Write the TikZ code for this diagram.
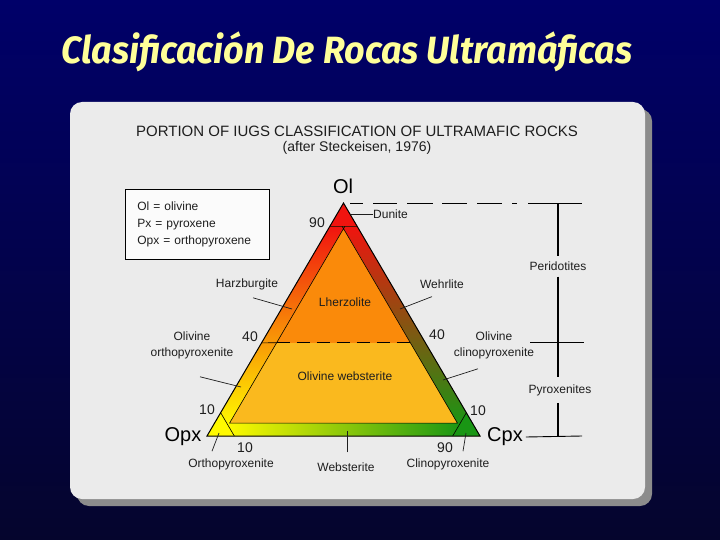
\documentclass[tikz,border=0pt]{standalone}
\usepackage{fontspec}
\setmainfont{Liberation Sans}
\newfontfamily\titlefont{Fira Sans}
\usetikzlibrary{calc}

\definecolor{bgtop}{RGB}{0,0,105}
\definecolor{bgbot}{RGB}{5,5,45}
\definecolor{panelgray}{RGB}{235,235,235}
\definecolor{shadowgray}{RGB}{140,140,140}
\definecolor{titleyellow}{RGB}{255,255,153}
\definecolor{inkgray}{RGB}{30,30,30}
\definecolor{duniteRed}{RGB}{240,20,15}
\definecolor{lherzOrange}{RGB}{250,138,10}
\definecolor{websAmber}{RGB}{250,185,30}
\definecolor{opxYellow}{RGB}{255,250,0}
\definecolor{cpxGreen}{RGB}{25,150,20}
\definecolor{bandOrange}{RGB}{245,160,50}
\definecolor{bandBrown}{RGB}{130,75,20}
\definecolor{bandLime}{RGB}{185,220,40}

\tikzset{
  lbl/.style={font=\fontsize{12}{14}\selectfont, text=inkgray, inner sep=0pt},
  num/.style={font=\fontsize{14}{16}\selectfont, text=inkgray, inner sep=0pt},
  apexlbl/.style={font=\fontsize{20}{22}\selectfont, text=black, inner sep=0pt},
  leader/.style={draw=inkgray, line width=0.7pt},
  edge/.style={draw=black, line width=0.8pt},
}

\begin{document}
\begin{tikzpicture}[x=1pt,y=-1pt]
\useasboundingbox (0,0) rectangle (720,540);
% background and panel
\shade[top color=bgtop, bottom color=bgbot] (0,0) rectangle (720,540);
\fill[shadowgray, rounded corners=12] (77,109) rectangle (652,506);
\fill[panelgray, rounded corners=12] (70,102) rectangle (645,499);

% title
\node[font=\titlefont\bfseries\itshape\fontsize{38}{42}\selectfont, text=titleyellow] (title) at (347,52)
  {\scalebox{0.945}[1]{Clasificación De Rocas Ultramáficas}};

% heading
\node[font=\fontsize{15}{17}\selectfont, text=inkgray] (head) at (357,131) {PORTION OF IUGS CLASSIFICATION OF ULTRAMAFIC ROCKS};
\node[font=\fontsize{14}{16}\selectfont, text=inkgray] (after) at (357,148) {(after Steckeisen, 1976)};

% legend
\node[draw=black, line width=0.7pt, fill=white!97!gray, anchor=north west, text width=120pt,
      minimum height=70pt, inner xsep=12pt, align=left, font=\fontsize{12}{17}\selectfont, text=inkgray] (legend) at (125,189)
  {Ol = olivine\\Px = pyroxene\\Opx = orthopyroxene};

% triangle corners
\coordinate (A) at (343.5,203);
\coordinate (B) at (207,436);
\coordinate (C) at (480,436);
% ternary points (Ol, Opx, Cpx)
\coordinate (dunL) at ($0.9*(A)+0.1*(B)$);
\coordinate (dunR) at ($0.9*(A)+0.1*(C)$);
\coordinate (lbTop) at ($0.9*(A)+0.045*(B)+0.055*(C)$);
\coordinate (lbBot) at ($0.045*(A)+0.9*(B)+0.055*(C)$);
\coordinate (rbTop) at ($0.9*(A)+0.055*(B)+0.045*(C)$);
\coordinate (rbBot) at ($0.045*(A)+0.055*(B)+0.9*(C)$);
\coordinate (opxTop) at ($0.1*(A)+0.9*(B)$);
\coordinate (opxRt) at ($0.9*(B)+0.1*(C)$);
\coordinate (cpxTop) at ($0.1*(A)+0.9*(C)$);
\coordinate (cpxLt) at ($0.1*(B)+0.9*(C)$);
\coordinate (bbL) at ($0.055*(A)+0.9*(B)+0.045*(C)$);
\coordinate (bbR) at ($0.055*(A)+0.045*(B)+0.9*(C)$);
\coordinate (inBL) at ($0.055*(A)+0.89*(B)+0.055*(C)$);
\coordinate (inBR) at ($0.055*(A)+0.055*(B)+0.89*(C)$);
\coordinate (ol40L) at ($0.4*(A)+0.6*(B)$);
\coordinate (ol40a) at ($0.4*(A)+0.545*(B)+0.055*(C)$);
\coordinate (ol40b) at ($0.4*(A)+0.055*(B)+0.545*(C)$);

% fields
\fill[websAmber] (A) -- (B) -- (C) -- cycle;
\fill[duniteRed] (A) -- (dunL) -- (dunR) -- cycle;
\shade[top color=duniteRed, middle color=bandOrange, bottom color=opxYellow] (dunL) -- (opxTop) -- (lbBot) -- (lbTop) -- cycle;
\shade[top color=duniteRed, middle color=bandBrown, bottom color=cpxGreen] (dunR) -- (cpxTop) -- (rbBot) -- (rbTop) -- cycle;
\shade[left color=opxYellow, middle color=bandLime, right color=cpxGreen] (opxRt) -- (cpxLt) -- (bbR) -- (bbL) -- cycle;
\fill[lherzOrange] (lbTop) -- (ol40a) -- (ol40b) -- (rbTop) -- cycle;
\fill[opxYellow] (B) -- (opxTop) -- (opxRt) -- cycle;
\fill[cpxGreen] (C) -- (cpxTop) -- (cpxLt) -- cycle;

% field boundaries
\draw[edge, line width=0.6pt] (lbTop) -- (inBL) -- (inBR) -- (rbTop);
\draw[edge, line width=0.6pt] (opxTop) -- (opxRt) (cpxTop) -- (cpxLt) (dunL) -- (dunR);
\draw[edge, line width=0.6pt] (ol40L) -- (ol40a);
\draw[edge, line width=0.6pt, dash pattern=on 13pt off 7pt] (ol40a) -- (ol40b);
\draw[edge, line width=1pt] (A) -- (B) -- (C) -- cycle;

% corner labels
\node[apexlbl] (ol) at (343,186) {Ol};
\node[apexlbl] (opx) at (183,437) {Opx};
\node[apexlbl] (cpx) at (505,437) {Cpx};

% ticks
\node[num] (n90) at (317,223) {90};
\node[num] (n40L) at (250,337) {40};
\node[num] (n40R) at (437,335) {40};
\node[num] (n10L) at (207,410) {10};
\node[num] (n10B) at (245,448) {10};
\node[num] (n90B) at (445,448) {90};
\node[num] (n10R) at (478,411) {10};

% field names
\node[lbl] at (345,302) {Lherzolite};
\node[lbl] at (345,376) {Olivine websterite};
\node[lbl, anchor=west] (dunite) at (373,214) {Dunite};
\node[lbl] (harz) at (247,284) {Harzburgite};
\node[lbl] (wehr) at (442,284) {Wehrlite};
\node[lbl, align=center, font=\fontsize{12}{16}\selectfont] (olopx) at (192,345) {Olivine\\orthopyroxenite};
\node[lbl, align=center, font=\fontsize{12}{16}\selectfont] (olcpx) at (494,345) {Olivine\\clinopyroxenite};
\node[lbl] (orthopx) at (231,464) {Orthopyroxenite};
\node[lbl] (webs) at (346,467) {Websterite};
\node[lbl] (clinopx) at (448,464) {Clinopyroxenite};

% leader lines
\coordinate (dunPt) at (351,214);
\coordinate (harzPt) at (292,309);
\coordinate (wehrPt) at (400,309);
\coordinate (olopxPt) at (241,387);
\coordinate (olcpxPt) at (443,380);
\coordinate (orthoPt) at (219,433);
\coordinate (websPt) at (347,431);
\coordinate (clinoPt) at (466,433);
\draw[leader] (dunite.west) -- (dunPt);
\draw[leader] ([shift={(6,8)}]harz.south) -- (harzPt);
\draw[leader] ([shift={(-10,8)}]wehr.south) -- (wehrPt);
\draw[leader] ([shift={(8,18)}]olopx.south) -- (olopxPt);
\draw[leader] ([shift={(-16,10)}]olcpx.south) -- (olcpxPt);
\draw[leader] ([shift={(-19,-7)}]orthopx.north) -- (orthoPt);
\draw[leader] ([shift={(1,-10)}]webs.north) -- (websPt);
\draw[leader] ([shift={(15,-7)}]clinopx.north) -- (clinoPt);

% peridotite / pyroxenite bracket
\draw[line width=0.9pt] (350,203) -- (363,203) (373,203) -- (397,203) (407,203) -- (433,203)
  (442,203) -- (467,203) (477,203) -- (502,203) (512,203) -- (517,203) (528,203) -- (582,203);
\node[lbl] (peri) at (558,266) {Peridotites};
\node[lbl] (pyro) at (560,390) {Pyroxenites};
\coordinate (brTop) at (558,204);
\coordinate (brBot) at (558,436);
\coordinate (midL) at (530,342);
\coordinate (midR) at (584,342);
\coordinate (botR) at (582,436);
\draw[line width=1.5pt] (brTop) -- ([yshift=5pt]peri.north -| brTop);
\draw[line width=1.5pt] ([yshift=-6pt]peri.south -| brTop) -- ([yshift=7pt]pyro.north -| brTop);
\draw[line width=1.5pt] ([yshift=-7pt]pyro.south -| brTop) -- (brBot);
\draw[line width=0.9pt] (midL) -- (midR);
\draw[line width=0.9pt] ([xshift=3pt]cpx.east) -- (botR);
\end{tikzpicture}
\end{document}
